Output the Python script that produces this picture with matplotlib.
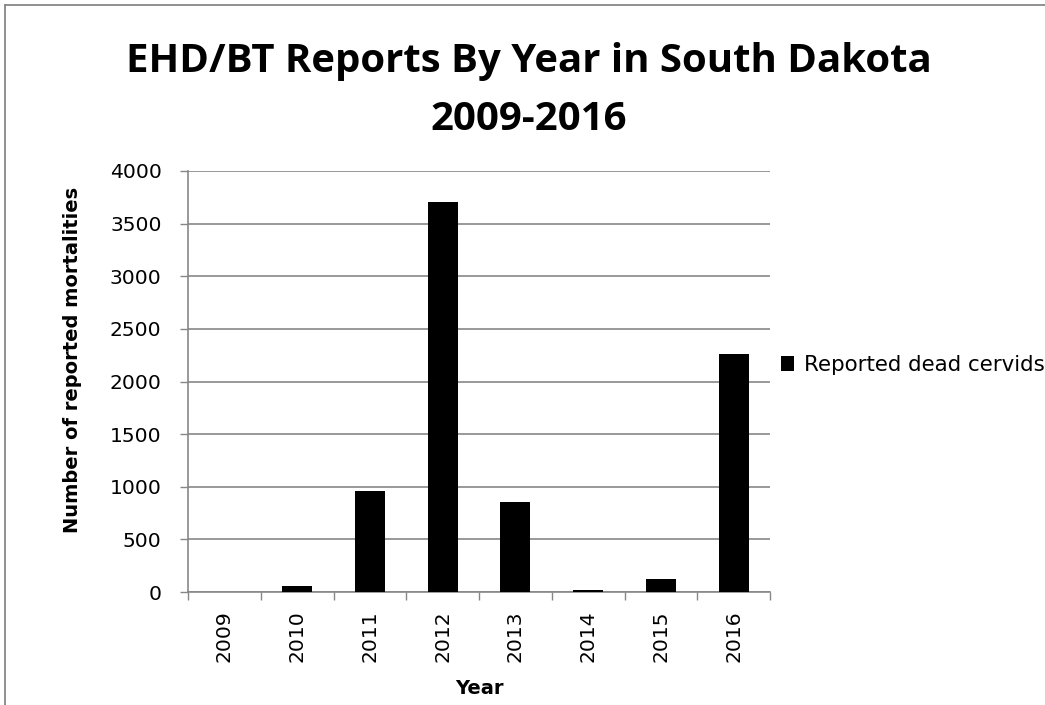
import matplotlib
matplotlib.use("Agg")
import matplotlib.pyplot as plt
from matplotlib.lines import Line2D
from matplotlib.ticker import FixedLocator, NullFormatter

years = ["2009", "2010", "2011", "2012", "2013", "2014", "2015", "2016"]
reported_dead = [2, 60, 962, 3710, 851, 19, 127, 2263]
series_name = "Reported dead cervids"
title_line1 = "EHD/BT Reports By Year in South Dakota"
title_line2 = "2009-2016"
y_ticks = [0, 500, 1000, 1500, 2000, 2500, 3000, 3500, 4000]

W, H = 1045, 705
fig = plt.figure(figsize=(W / 100, H / 100), dpi=100)
fig.patch.set_facecolor("white")

def fx(px):
    return px / W

def fy(py):
    return 1 - py / H

gray = "#878787"

# chart border (cropped at right/bottom)
fig.add_artist(Line2D([fx(4.5), fx(4.5)], [fy(5), 0], color=gray, lw=1.3, transform=fig.transFigure))
fig.add_artist(Line2D([fx(4.5), 1], [fy(5), fy(5)], color=gray, lw=1.3, transform=fig.transFigure))

left, right, top, bottom = 188, 770, 171, 592
ax = fig.add_axes([fx(left), fy(bottom), fx(right - left), (bottom - top) / H])

x = list(range(len(years)))
ax.bar(x, reported_dead, width=0.41, color="black", zorder=3, label=series_name)

ax.set_xlim(-0.5, len(years) - 0.5)
ax.set_ylim(0, 4000)
ax.set_yticks(y_ticks)
ax.set_yticklabels([str(v) for v in y_ticks], fontsize=14.6, family="DejaVu Sans")
ax.yaxis.grid(True, color=gray, lw=1.2, zorder=0)
ax.set_axisbelow(True)

ax.xaxis.set_major_locator(FixedLocator([i - 0.5 for i in range(len(years) + 1)]))
ax.xaxis.set_major_formatter(NullFormatter())
ax.xaxis.set_minor_locator(FixedLocator(x))
ax.set_xticklabels(years, minor=True, rotation=90, fontsize=14.6, family="DejaVu Sans")
ax.tick_params(axis="x", which="major", length=5.5, width=1.0, color=gray, direction="out")
ax.tick_params(axis="x", which="minor", length=0, pad=13.5)
ax.tick_params(axis="y", which="major", length=6, width=1.0, color=gray, direction="out", pad=13.0)

for s in ["top", "right"]:
    ax.spines[s].set_visible(False)
for s in ["left", "bottom"]:
    ax.spines[s].set_color(gray)
    ax.spines[s].set_linewidth(1.2)

# titles
fig.text(fx(529), fy(72), title_line1, ha="center", va="baseline",
         family="Open Sans", fontweight="bold", fontsize=28.9)
fig.text(fx(529), fy(130), title_line2, ha="center", va="baseline",
         family="Open Sans", fontweight="bold", fontsize=28.9)

# axis titles
fig.text(fx(73), fy(360), "Number of reported mortalities", rotation=90, ha="center", va="center",
         family="DejaVu Sans", fontweight="bold", fontsize=14.0)
fig.text(fx(479), fy(689), "Year", ha="center", va="center",
         family="DejaVu Sans", fontweight="bold", fontsize=14.0)

leg = ax.legend(loc="center left", bbox_to_anchor=(fx(781), fy(365)), bbox_transform=fig.transFigure,
                frameon=False, borderpad=0, borderaxespad=0, handlelength=0.62, handleheight=0.68,
                handletextpad=0.45, prop={"family": "DejaVu Sans", "size": 15.4})

fig.savefig("out.png", dpi=100, facecolor="white")
